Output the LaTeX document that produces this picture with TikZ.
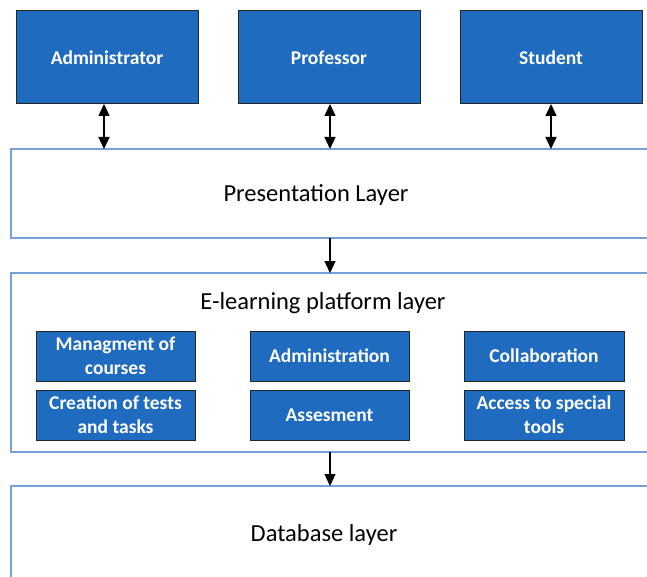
\documentclass[tikz,border=0pt]{standalone}
\usepackage{fontspec}
\setmainfont{Carlito}
\usetikzlibrary{arrows.meta}
\definecolor{boxblue}{HTML}{1F6BBF}
\definecolor{layerline}{HTML}{74A2D8}
\tikzset{
  x=1pt, y=-1pt,
  actor/.style={draw=black!85, line width=1pt, fill=boxblue, text=white, font=\bfseries\fontsize{19.5}{22}\selectfont},
  module/.style={draw=black!85, line width=1pt, fill=boxblue, text=white, align=center, font=\bfseries\fontsize{19.5}{24}\selectfont},
  layer/.style={draw=layerline, line width=1.6pt},
  layertext/.style={font=\fontsize{24.5}{28}\selectfont},
  link/.style={line width=1.4pt, -{Triangle[width=11pt,length=12pt]}},
  bilink/.style={line width=1.4pt, {Triangle[width=11pt,length=12pt]}-{Triangle[width=11pt,length=12pt]}}
}
\begin{document}
\begin{tikzpicture}
\useasboundingbox (0,0) rectangle (647,577);

% user roles
\draw[actor] (16,11) rectangle (198,104) node[midway] (admin) {Administrator};
\draw[actor] (238,11) rectangle (420,104) node[midway] (prof) {Professor};
\draw[actor] (460,11) rectangle (642,104) node[midway] (stud) {Student};
\coordinate (adminB) at (104,104);
\coordinate (profB) at (330,104);
\coordinate (studB) at (551,104);

% layers (open to the right)
\draw[layer] (660,149) -- (11,149) -- (11,238) -- (660,238);
\node[layertext] (pres) at (316,195) {Presentation Layer};
\coordinate (presA) at (104,149);
\coordinate (presP) at (330,149);
\coordinate (presS) at (551,149);
\coordinate (presB) at (330,238);

\draw[layer] (660,273) -- (11,273) -- (11,452) -- (660,452);
\node[layertext] (elearn) at (323,303) {E-learning platform layer};
\coordinate (elT) at (330,273);
\coordinate (elB) at (330,452);

\draw[layer] (660,486) -- (11,486) -- (11,590);
\node[layertext] (db) at (324,535) {Database layer};
\coordinate (dbT) at (330,486);

% platform modules
\draw[module] (36,331) rectangle (195,381) node[midway] (m1) {Managment of\\courses};
\draw[module] (36,390) rectangle (195,440) node[midway] (m2) {Creation of tests\\and tasks};
\draw[module] (250,331) rectangle (409,381) node[midway] (m3) {Administration};
\draw[module] (250,390) rectangle (409,440) node[midway] (m4) {Assesment};
\draw[module] (464,331) rectangle (624,381) node[midway] (m5) {Collaboration};
\draw[module] (464,390) rectangle (624,440) node[midway] (m6) {Access to special\\tools};

% connectors
\draw[bilink] (adminB) -- (presA);
\draw[bilink] (profB) -- (presP);
\draw[bilink] (studB) -- (presS);
\draw[link] (presB) -- (elT);
\draw[link] (elB) -- (dbT);
\end{tikzpicture}
\end{document}
